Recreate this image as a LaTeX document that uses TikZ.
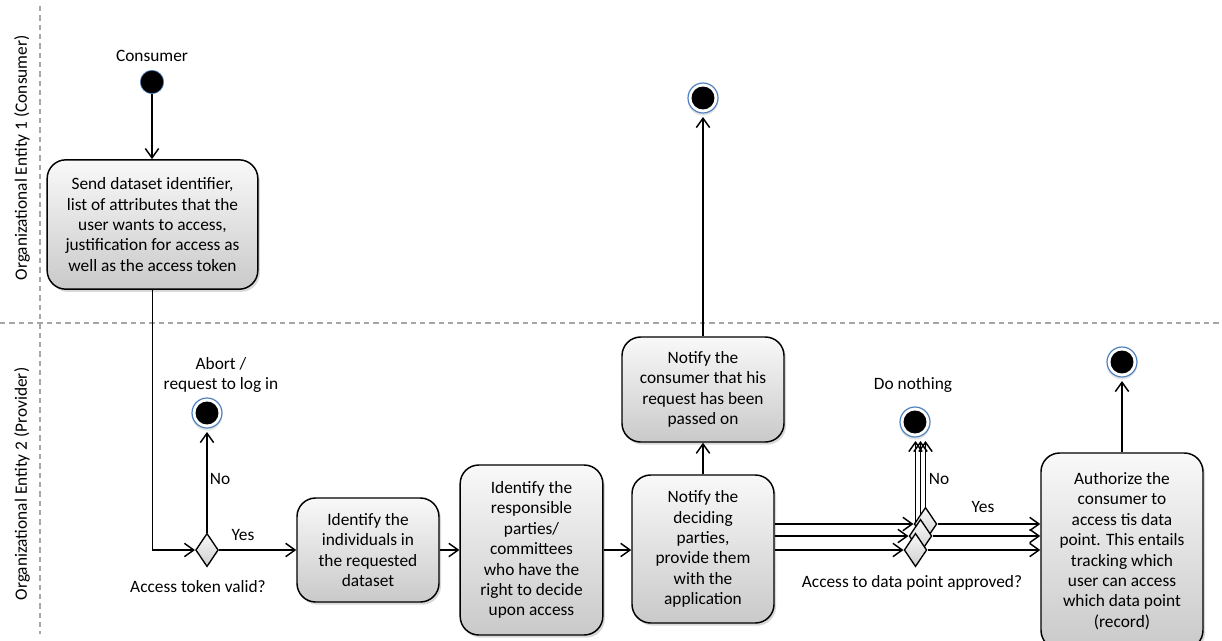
\documentclass[tikz,border=0pt]{standalone}
\usepackage{fontspec}
\setmainfont{Carlito}
\usepackage{tikz}
\usetikzlibrary{arrows.meta,shapes.geometric,shadows,backgrounds}
\definecolor{ringblue}{HTML}{4F81BD}
\definecolor{lanegray}{HTML}{A6A6A6}
\newcommand{\actfont}{\fontsize{13}{15.3}\selectfont}

\begin{document}
\begin{tikzpicture}[x=0.75pt,y=-0.75pt,>={Straight Barb[length=7pt,width=10pt]},
  act/.style={draw,line width=1.1pt,rounded corners=14pt,top color=gray!5,bottom color=gray!42,
    align=center,font=\actfont,inner sep=2pt,
    drop shadow={shadow xshift=1.5pt,shadow yshift=-2pt,opacity=0.3}},
  decision/.style={diamond,draw,line width=1pt,minimum width=17pt,minimum height=25pt,
    inner sep=0pt,top color=gray!5,bottom color=gray!38},
  startstate/.style={circle,fill=black,draw=ringblue,line width=0.5pt,minimum size=17.5pt,inner sep=0pt},
  endstate/.style={circle,draw=ringblue,line width=0.9pt,fill=white,minimum size=22.5pt,inner sep=0pt,
    outer sep=3pt,drop shadow={shadow xshift=0pt,shadow yshift=-2pt,opacity=0.2},
    path picture={\fill[black] (path picture bounding box.center) circle (8.6pt);}},
  flow/.style={->,line width=1.1pt},
  lane/.style={lanegray,line width=0.8pt,dash pattern=on 4pt off 3pt},
  lbl/.style={font=\actfont,align=center}]
  \useasboundingbox (0,0) rectangle (1222,640);
  % swimlanes
  \draw[lane] (40,6) -- (40,634);
  \draw[lane] (0,323) -- (1222,323);
  \node[lbl,rotate=90,anchor=west] (lane1) at (22,285) {Organizational Entity 1 (Consumer)};
  \node[lbl,rotate=90,anchor=east] (lane2) at (22,363) {Organizational Entity 2 (Provider)};

  % consumer lane
  \node[startstate] (start) at (152,82) {};
  \node[lbl] (startlbl) at (152,56) {Consumer};
  \node[act,minimum width=158pt,minimum height=97pt] (send) at (152.5,224.5)
    {Send dataset identifier,\\list of attributes that the\\user wants to access,\\justification for access as\\well as the access token};
  \node[endstate] (passedend) at (703,98) {};

  % provider lane
  \node[decision] (tokq) at (207,550) {};
  \node[lbl] (tokqlbl) at (198,587) {Access token valid?};
  \node[endstate] (abort) at (207,413) {};
  \node[lbl] (abortlbl) at (221,375) {Abort /\\request to log in};
  \node[act,minimum width=106.5pt,minimum height=78pt] (ident) at (368,550)
    {Identify the\\individuals in\\the requested\\dataset};
  \node[act,minimum width=107pt,minimum height=127.5pt] (resp) at (531.5,550)
    {Identify the\\responsible\\parties/\\committees\\who have the\\right to decide\\upon access};
  \node[act,minimum width=106.5pt,minimum height=111pt] (notifyd) at (703,549)
    {Notify the\\deciding\\parties,\\provide them\\with the\\application};
  \node[act,minimum width=121.5pt,minimum height=78.75pt] (notifyc) at (703,389.5)
    {Notify the\\consumer that his\\request has been\\passed on};
  \node[decision] (apA) at (925.5,524) {};
  \node[decision] (apB) at (920.5,536) {};
  \node[decision] (apC) at (915.5,550) {};
  \node[lbl] (aplbl) at (912,583) {Access to data point approved?};
  \node[endstate] (nothing) at (915,422) {};
  \node[lbl] (nothinglbl) at (913,385) {Do nothing};
  \node[act,minimum width=121.5pt,minimum height=147pt] (auth) at (1122,551)
    {Authorize the\\consumer to\\access tis data\\point. This entails\\tracking which\\user can access\\which data point\\(record)};
  \node[endstate] (authend) at (1122,362) {};

  % flows
  \draw[flow] (start) -- (start |- send.north);
  \draw[flow] (send.south) |- (tokq.west);
  \draw[flow] (tokq.north) -- (abort);
  \node[lbl] (nolbl) at (220,479) {No};
  \draw[flow] (tokq.east) -- (ident.west);
  \node[lbl] (yeslbl) at (243,535) {Yes};
  \draw[flow] (ident.east) -- (ident.east -| resp.west);
  \draw[flow] (resp.east) -- (resp.east -| notifyd.west);
  \draw[flow] (notifyd) -- (notifyc);
  \draw[flow] (notifyc) -- (passedend);
  \draw[flow] (notifyd.east |- apA.west) -- (apA.west);
  \draw[flow] (notifyd.east |- apB.west) -- (apB.west);
  \draw[flow] (notifyd.east |- apC.west) -- (apC.west);
  \begin{scope}[on background layer]
    \draw[flow] (apA.north) -- (apA.north |- nothing.south);
    \draw[flow] (apB.north) -- (apB.north |- nothing.south);
    \draw[flow] (apC.north) -- (apC.north |- nothing.south);
  \end{scope}
  \node[lbl] (nolbl2) at (939,479) {No};
  \draw[flow] (apA.east) -- (apA.east -| auth.west);
  \draw[flow] (apB.east) -- (apB.east -| auth.west);
  \draw[flow] (apC.east) -- (apC.east -| auth.west);
  \node[lbl] (yeslbl2) at (983,507) {Yes};
  \draw[flow] (auth) -- (authend);
\end{tikzpicture}
\end{document}
